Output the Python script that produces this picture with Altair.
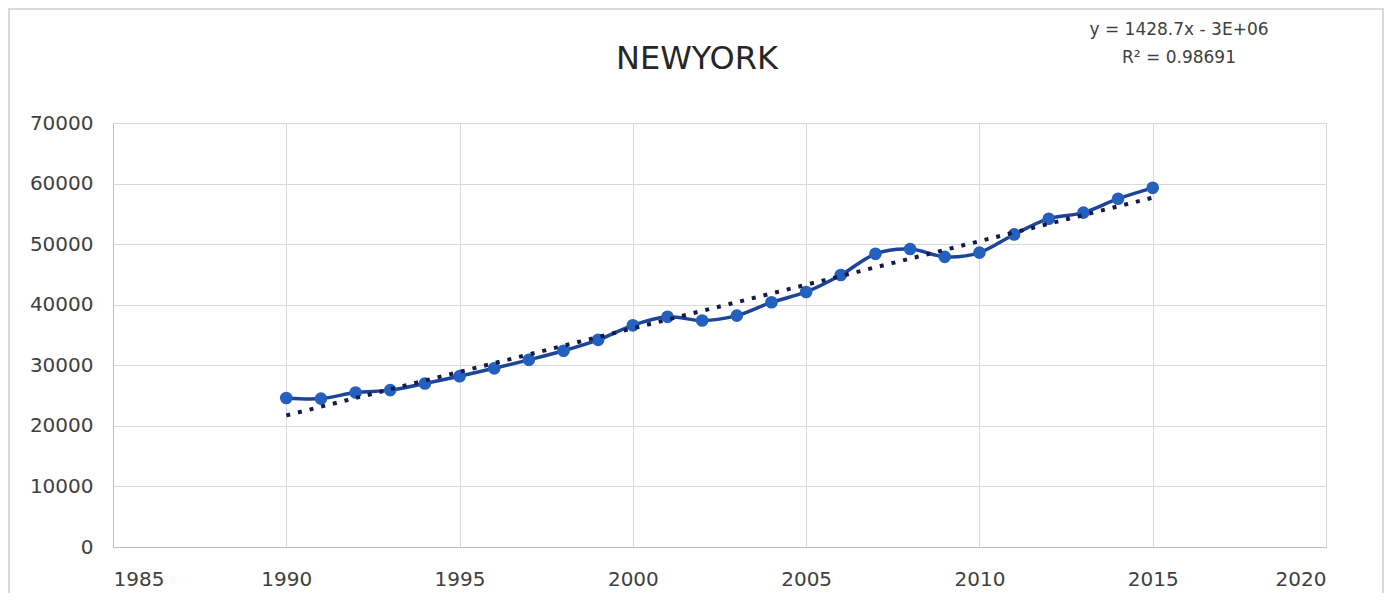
import altair as alt
import pandas as pd

years = list(range(1990, 2016))
values = [24600, 24500, 25500, 25900, 27000, 28200, 29500, 30900, 32400, 34200,
          36600, 38000, 37400, 38200, 40400, 42100, 44900, 48400, 49200, 47900,
          48600, 51600, 54200, 55200, 57500, 59300]
title_text = "NEWYORK"
equation_lines = ["y = 1428.7x - 3E+06", "R\u00b2 = 0.98691"]
x_ticks = [1985, 1990, 1995, 2000, 2005, 2010, 2015, 2020]
y_ticks = [0, 10000, 20000, 30000, 40000, 50000, 60000, 70000]

df = pd.DataFrame({"year": years, "value": values})

FONT = "DejaVu Sans"
W, H = 1213, 424

x_enc = alt.X("year:Q", scale=alt.Scale(domain=[1985, 2020], nice=False, zero=False),
              axis=alt.Axis(values=x_ticks, format="d", title=None, grid=True,
                            ticks=False, labelPadding=22, labelFontSize=20,
                            labelFont=FONT, labelColor="#404040",
                            domainColor="#bfbfbf", gridColor="#d9d9d9"))
y_enc = alt.Y("value:Q", scale=alt.Scale(domain=[0, 70000], nice=False),
              axis=alt.Axis(values=y_ticks, format="d", title=None, grid=True,
                            ticks=False, labelPadding=20, labelFontSize=20,
                            labelFont=FONT, labelColor="#404040",
                            domainColor="#bfbfbf", gridColor="#d9d9d9"))

base = alt.Chart(df)

line = base.mark_line(interpolate="cardinal", color="#1c4597", strokeWidth=3.5).encode(x=x_enc, y=y_enc)
points = base.mark_point(filled=True, size=160, color="#2460bd", opacity=1).encode(x="year:Q", y="value:Q")
trend = base.transform_regression("year", "value").mark_line(
    color="#151a4a", strokeWidth=4, strokeDash=[4, 8]).encode(x="year:Q", y="value:Q")

def label(text, x, y, size):
    return alt.Chart(pd.DataFrame({"t": [text]})).mark_text(
        font=FONT, fontSize=size, color="#404040" if size < 30 else "#262626",
        align="center", baseline="middle").encode(
        text="t:N", x=alt.value(x), y=alt.value(y))

title = label(title_text, 584, -64, 32)
eq1 = label(equation_lines[0], 1066, -93, 17)
eq2 = label(equation_lines[1], 1066, -65, 17)

border = alt.Chart(pd.DataFrame({"a": [0]})).mark_rect(
    fill=None, fillOpacity=0, stroke="#d9d9d9", strokeWidth=2).encode(
    x=alt.value(-104), x2=alt.value(1270), y=alt.value(-114), y2=alt.value(490))

chart = alt.layer(border, line, points, trend, title, eq1, eq2).properties(
    width=W, height=H,
    autosize=alt.AutoSizeParams(type="none"),
    padding={"left": 105, "top": 115, "right": 58, "bottom": 46},
).configure_view(stroke="#d9d9d9").configure(background="white")

chart.save("out.html", embed_options={"renderer": "svg", "actions": False})
